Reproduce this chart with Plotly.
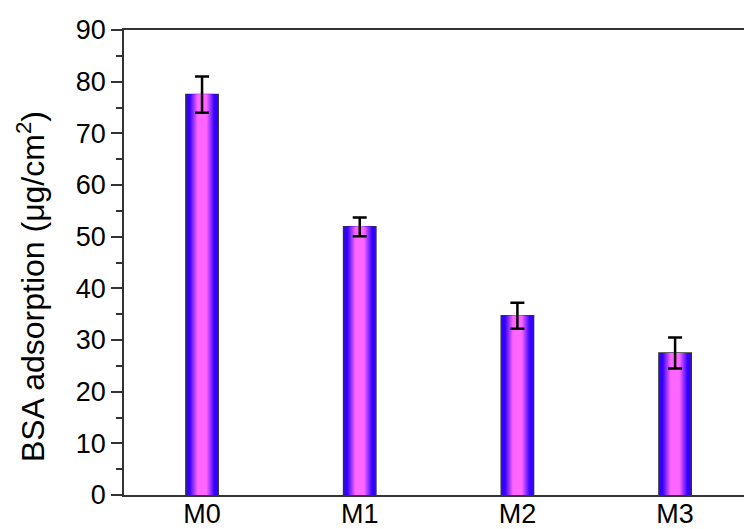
import plotly.graph_objects as go

# Samples and measured BSA adsorption (mean ± error)
samples = ["M0", "M1", "M2", "M3"]
bsa_adsorption = [77.5, 51.9, 34.7, 27.5]
bsa_error = [3.5, 1.8, 2.5, 3.0]
y_ticks = [0, 10, 20, 30, 40, 50, 60, 70, 80, 90]

FONT = "Arial, Liberation Sans, Helvetica, sans-serif"
BAR_WIDTH = 0.205

# Horizontal shading of each bar: blue at the edges, magenta in the middle.
EDGE = (51, 0, 255)
CENTER = (255, 102, 255)


def shade(t):
    """Colour at relative distance t from the bar centre (0 = centre, 1 = edge)."""
    if t <= 0.3:
        f = 0.0
    elif t >= 0.8:
        f = 1.0
    else:
        f = (t - 0.3) / 0.5
    r, g, b = (round(c + (e - c) * f) for c, e in zip(CENTER, EDGE))
    return f"rgb({r},{g},{b})"


fig = go.Figure()
n_layers = 16
for i in range(n_layers):
    t = 1.0 - i / n_layers
    last = i == n_layers - 1
    fig.add_trace(go.Bar(
        x=samples,
        y=bsa_adsorption,
        width=BAR_WIDTH * t,
        marker=dict(
            color=shade(t),
            line=dict(color="#333333", width=1.5) if i == 0 else dict(width=0),
        ),
        error_y=dict(type="data", array=bsa_error, color="black",
                     thickness=2.5, width=7) if last else dict(visible=False),
        hoverinfo="skip" if not last else None,
        showlegend=False,
    ))

fig.update_layout(
    width=744,
    height=529,
    template="none",
    barmode="overlay",
    paper_bgcolor="white",
    plot_bgcolor="white",
    margin=dict(l=124, r=0, t=30, b=34, pad=0),
    font=dict(family=FONT, size=27, color="black"),
    xaxis=dict(
        range=[-0.495, 3.437],
        showline=True, linecolor="#333333", linewidth=1.5, mirror=True,
        ticks="", showgrid=False, zeroline=False,
        tickfont=dict(size=27), automargin=False,
        ticklabelstandoff=-6,
    ),
    yaxis=dict(
        range=[0, 90],
        tickvals=y_ticks,
        showline=True, linecolor="#333333", linewidth=1.5,
        ticks="outside", ticklen=11, tickwidth=1.5, tickcolor="#333333",
        minor=dict(dtick=5, ticks="outside", ticklen=6, tickwidth=1.5,
                   tickcolor="#333333", showgrid=False),
        showgrid=False, zeroline=False,
        tickfont=dict(size=27), automargin=False,
    ),
    annotations=[dict(
        text="BSA adsorption (μg/cm<sup>2</sup>)",
        xref="paper", yref="paper",
        x=(31 - 124) / 620, y=(495 - 287) / 465,
        xanchor="center", yanchor="middle",
        textangle=-90, showarrow=False,
        font=dict(family=FONT, size=32, color="black"),
    )],
)

fig.write_html("out.html")
